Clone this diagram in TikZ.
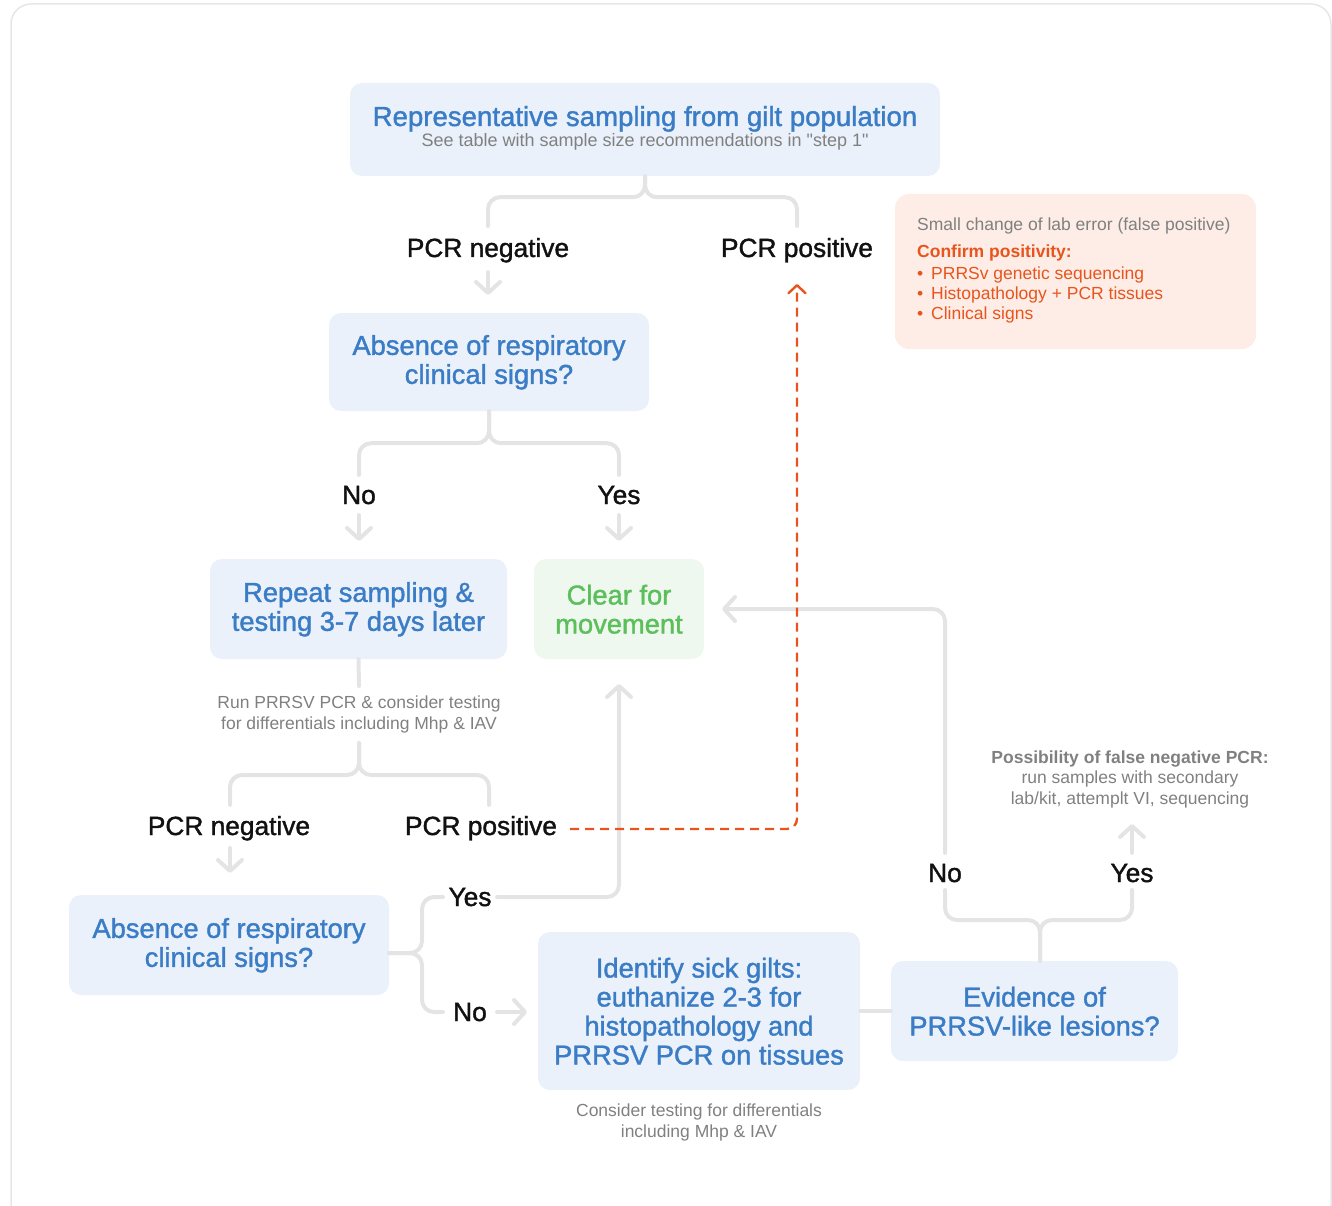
\documentclass[tikz,border=0pt]{standalone}
\usepackage{fontspec}
\setmainfont{Liberation Sans}[Ligatures=TeXOff]
\newfontfamily\medfont{Liberation Sans}[FakeBold=1.4, Ligatures=TeXOff]
\usetikzlibrary{arrows.meta}

\definecolor{boxfill}{HTML}{EAF1FA}
\definecolor{boxtext}{HTML}{3A7DC6}
\definecolor{okfill}{HTML}{EFF8EF}
\definecolor{oktext}{HTML}{5CBF5C}
\definecolor{warnfill}{HTML}{FDEDE6}
\definecolor{warntext}{HTML}{E8541D}
\definecolor{notegrey}{HTML}{808080}
\definecolor{linkgrey}{HTML}{E4E4E4}
\definecolor{framegrey}{HTML}{E6E6E6}
\definecolor{labelink}{HTML}{111111}

\tikzset{
  box/.style={rectangle, rounded corners=12pt, inner sep=0pt, align=center,
    fill=boxfill, text=boxtext, font=\medfont\fontsize{27.3}{29}\selectfont},
  okbox/.style={box, fill=okfill, text=oktext},
  warnbox/.style={rectangle, rounded corners=14pt, inner sep=0pt, fill=warnfill},
  lbl/.style={inner sep=0pt, anchor=base, text=labelink, font=\medfont\fontsize{26.3}{29}\selectfont},
  note/.style={inner sep=0pt, anchor=base, text=notegrey, font=\fontsize{17.5}{21}\selectfont},
  warnline/.style={inner sep=0pt, anchor=base west, text=warntext, font=\fontsize{17.5}{21}\selectfont},
  link/.style={draw=linkgrey, line width=4pt, line cap=round, rounded corners=12pt},
  arr/.style={link, -{Straight Barb[length=11pt,width=24pt,round]}},
  dlink/.style={draw=warntext, line width=2.4pt, dash pattern=on 9pt off 6pt,
    rounded corners=10pt, -{Straight Barb[length=8pt,width=17pt,round]}}
}

\begin{document}
\begin{tikzpicture}[x=1pt,y=-1pt]
  \useasboundingbox (0,0) rectangle (1332,1206);
  \clip (0,0) rectangle (1332,1206);
  \draw[framegrey, line width=1.5pt, rounded corners=20pt] (11,4) rectangle (1331,1240);

  % ---- boxes ----
  \node[box, minimum width=590pt, minimum height=93pt] (start) at (645,129.5) {};
  \node[lbl, text=boxtext, font=\medfont\fontsize{27.6}{29}\selectfont] (startT) at (645,126)
    {Representative sampling from gilt population};
  \node[note, font=\fontsize{18}{21}\selectfont] (startS) at (645,147)
    {See table with sample size recommendations in "step 1"};

  \node[warnbox, minimum width=361pt, minimum height=155pt] (warn) at (1075.5,271.5) {};
  \node[warnline, text=notegrey] (w1) at (917,231) {Small change of lab error (false positive)};
  \node[warnline, font=\fontsize{17.5}{21}\selectfont\bfseries] (w2) at (917,258) {Confirm positivity:};
  \node[warnline] (w3) at (917,279) {\makebox[14pt][l]{•}PRRSv genetic sequencing};
  \node[warnline] (w4) at (917,299) {\makebox[14pt][l]{•}Histopathology + PCR tissues};
  \node[warnline] (w5) at (917,319) {\makebox[14pt][l]{•}Clinical signs};

  \node[box, minimum width=320pt, minimum height=98pt] (signsA) at (489,362)
    {\strut Absence of respiratory\\clinical signs?};
  \node[box, minimum width=297pt, minimum height=100pt] (repeat) at (358.5,609)
    {\strut Repeat sampling \&\\testing 3-7 days later};
  \node[okbox, minimum width=170pt, minimum height=100pt] (clear) at (619,609)
    {\strut Clear for\\movement};
  \node[box, minimum width=320pt, minimum height=100pt] (signsB) at (229,945)
    {\strut Absence of respiratory\\clinical signs?};
  \node[box, minimum width=322pt, minimum height=158pt] (sick) at (699,1011)
    {\strut Identify sick gilts:\\euthanize 2-3 for\\histopathology and\\PRRSV PCR on tissues};
  \node[box, minimum width=287pt, minimum height=100pt] (lesion) at (1034.5,1011)
    {\strut Evidence of\\PRRSV-like lesions?};

  % ---- branch labels ----
  \node[lbl] (negA) at (488,257) {PCR negative};
  \node[lbl] (posA) at (797,257) {PCR positive};
  \node[lbl] (noA) at (359,504) {No};
  \node[lbl] (yesA) at (619,504) {Yes};
  \node[lbl] (negB) at (229,835) {PCR negative};
  \node[lbl] (posB) at (481,835) {PCR positive};
  \node[lbl] (yesB) at (470,906) {Yes};
  \node[lbl] (noB) at (470,1021) {No};
  \node[lbl] (noC) at (945,882) {No};
  \node[lbl] (yesC) at (1132,882) {Yes};

  % ---- side notes ----
  \node[note] (run1) at (359,708) {Run PRRSV PCR \& consider testing};
  \node[note] (run2) at (359,729) {for differentials including Mhp \& IAV};
  \node[note, font=\fontsize{17.5}{21}\selectfont\bfseries] (fn1) at (1130,763) {Possibility of false negative PCR:};
  \node[note] (fn2) at (1130,783) {run samples with secondary};
  \node[note] (fn3) at (1130,804) {lab/kit, attemplt VI, sequencing};
  \node[note] (diff1) at (699,1116) {Consider testing for differentials};
  \node[note] (diff2) at (699,1137) {including Mhp \& IAV};

  % ---- free ends and bends of the connectors ----
  \coordinate (negAtop) at (488,226);
  \coordinate (posAtop) at (797,226);
  \coordinate (negAout) at (488,272);
  \coordinate (signsAin) at (488,295);
  \coordinate (noAtop) at (359,475);
  \coordinate (yesAtop) at (619,475);
  \coordinate (noAout) at (359,515);
  \coordinate (repeatin) at (359,541);
  \coordinate (yesAout) at (619,515);
  \coordinate (clearinA) at (619,541);
  \coordinate (repeatout) at (359,686);
  \coordinate (testout) at (359,743);
  \coordinate (negBtop) at (230,805);
  \coordinate (posBtop) at (489,805);
  \coordinate (negBout) at (230,848);
  \coordinate (signsBin) at (230,873);
  \coordinate (signsBout) at (389,953);
  \coordinate (forkup) at (422,897);
  \coordinate (forkdown) at (422,1012);
  \coordinate (yesBin) at (443,897);
  \coordinate (noBin) at (443,1012);
  \coordinate (yesBout) at (497,897);
  \coordinate (clearinB) at (619,684);
  \coordinate (noBout) at (497,1012);
  \coordinate (sickin) at (527,1012);
  \coordinate (lesionout) at (1040,961);
  \coordinate (noCbot) at (945,890);
  \coordinate (yesCbot) at (1132,890);
  \coordinate (noCout) at (945,853);
  \coordinate (clearinC) at (722,609);
  \coordinate (yesCout) at (1132,853);
  \coordinate (fnin) at (1132,824);
  \coordinate (posBout) at (570,829);
  \coordinate (posAin) at (797,284);

  % ---- connectors ----
  \draw[link] (start.south) -- ++(0,21) -| (negAtop);
  \draw[link] (start.south) -- ++(0,21) -| (posAtop);
  \draw[arr] (negAout) -- (signsAin);

  \draw[link] (signsA.south) -- ++(0,32) -| (noAtop);
  \draw[link] (signsA.south) -- ++(0,32) -| (yesAtop);
  \draw[arr] (noAout) -- (repeatin);
  \draw[arr] (yesAout) -- (clearinA);

  \draw[link] (repeat.south) -- (repeatout);
  \draw[link] (testout) -- ++(0,32) -| (negBtop);
  \draw[link] (testout) -- ++(0,32) -| (posBtop);
  \draw[arr] (negBout) -- (signsBin);

  \draw[link] (signsBout) -| (forkup) -- (yesBin);
  \draw[link] (signsBout) -| (forkdown) -- (noBin);
  \draw[arr] (yesBout) -| (clearinB);
  \draw[arr] (noBout) -- (sickin);

  \draw[link] (sick.east) -- (lesion.west);
  \draw[link] (lesionout) -- ++(0,-41) -| (noCbot);
  \draw[link] (lesionout) -- ++(0,-41) -| (yesCbot);
  \draw[arr] (noCout) |- (clearinC);
  \draw[arr] (yesCout) -- (fnin);

  \draw[dlink] (posBout) -| (posAin);
\end{tikzpicture}
\end{document}
